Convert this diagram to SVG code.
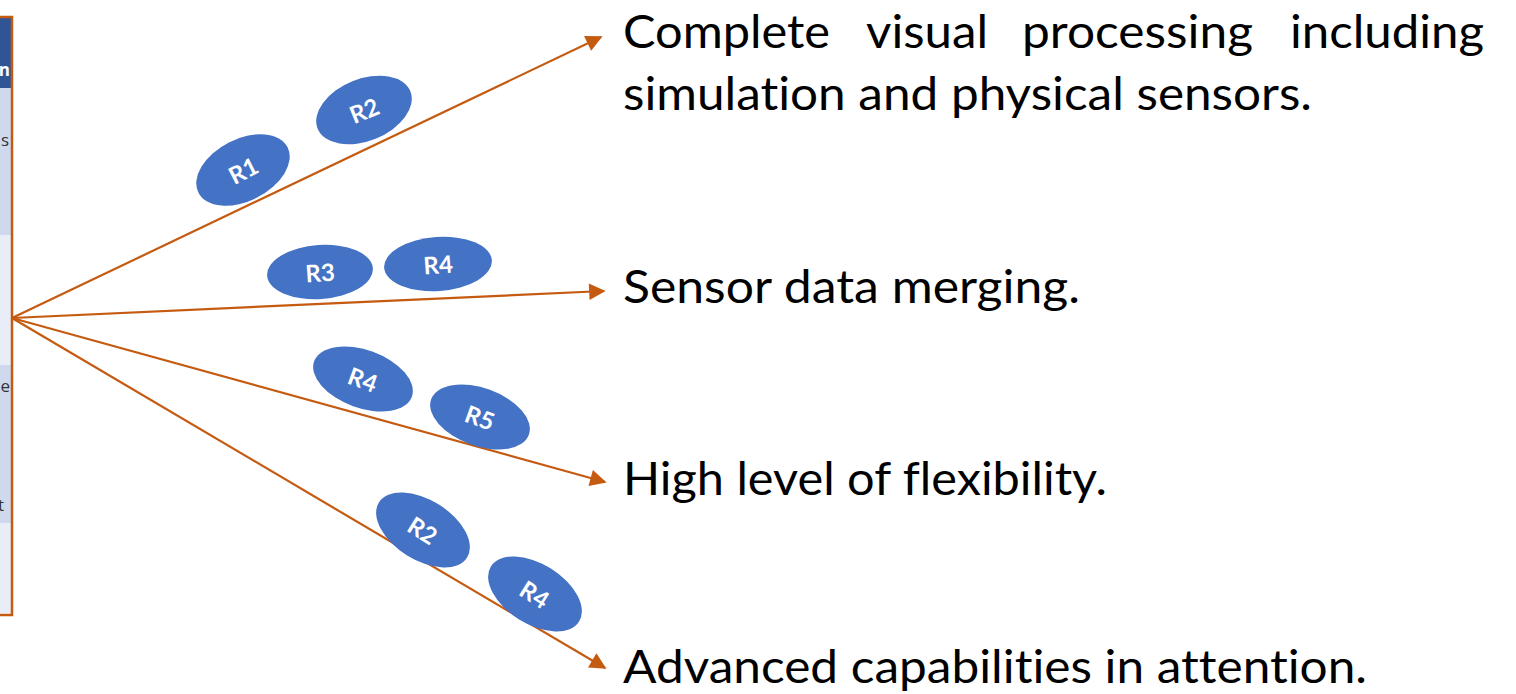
<svg xmlns="http://www.w3.org/2000/svg" width="1516" height="694" viewBox="0 0 1516 694">
  <style>
    .lbl { font-family: Lato, "Open Sans", "Liberation Sans", sans-serif; font-size: 46px; fill: #000; font-variant-ligatures: none; }
    .tag { font-family: Lato, "Open Sans", "Liberation Sans", sans-serif; font-size: 24px; font-weight: bold; fill: #fff; text-anchor: middle; dominant-baseline: central; }
    .pill { fill: #4472C4; }
    .edge { stroke: #C55A11; stroke-width: 2.2; fill: none; marker-end: url(#head); }
    .cell { font-family: "Open Sans", "Liberation Sans", sans-serif; font-size: 17px; fill: #333; text-anchor: end; }
  </style>
  <defs>
    <marker id="head" viewBox="0 0 10 10" refX="9" refY="5" markerWidth="8.5" markerHeight="7.5" markerUnits="strokeWidth" orient="auto">
      <path d="M0,0 L10,5 L0,10 Z" fill="#C55A11"/>
    </marker>
  </defs>

  <!-- table edge at the left -->
  <g id="table">
    <rect x="-20" y="18" width="32" height="70" fill="#2F5597"/>
    <rect x="-20" y="88" width="32" height="147" fill="#CFD9EE"/>
    <rect x="-20" y="235" width="32" height="130" fill="#E9EDF7"/>
    <rect x="-20" y="365" width="32" height="158" fill="#CFD9EE"/>
    <rect x="-20" y="523" width="32" height="90" fill="#E9EDF7"/>
    <text x="10" y="76" class="cell" style="fill:#fff;font-weight:bold">n</text>
    <text x="9" y="146" class="cell">s</text>
    <text x="10" y="392" class="cell">e</text>
    <text x="4" y="511" class="cell">t</text>
    <rect x="-20" y="17" width="32" height="598" fill="none" stroke="#C55A11" stroke-width="2.5"/>
  </g>

  <!-- connectors -->
  <g id="connectors">
    <line class="edge" x1="12" y1="318" x2="601" y2="37"/>
    <line class="edge" x1="12" y1="318" x2="604" y2="291"/>
    <line class="edge" x1="12" y1="318" x2="605" y2="482"/>
    <line class="edge" x1="12" y1="318" x2="605" y2="668"/>
  </g>

  <!-- requirement tags -->
  <g id="tag-r1" transform="translate(243,170) rotate(-27)">
    <ellipse class="pill" rx="50" ry="31"/><text class="tag">R1</text>
  </g>
  <g id="tag-r2a" transform="translate(364,110) rotate(-22)">
    <ellipse class="pill" rx="50" ry="31"/><text class="tag">R2</text>
  </g>
  <g id="tag-r3" transform="translate(320,272) rotate(-4)">
    <ellipse class="pill" rx="53" ry="27"/><text class="tag">R3</text>
  </g>
  <g id="tag-r4a" transform="translate(438,264) rotate(-4)">
    <ellipse class="pill" rx="54" ry="27"/><text class="tag">R4</text>
  </g>
  <g id="tag-r4b" transform="translate(363,379) rotate(20)">
    <ellipse class="pill" rx="52" ry="29"/><text class="tag">R4</text>
  </g>
  <g id="tag-r5" transform="translate(480,417) rotate(20)">
    <ellipse class="pill" rx="52" ry="29"/><text class="tag">R5</text>
  </g>
  <g id="tag-r2b" transform="translate(423,530) rotate(32)">
    <ellipse class="pill" rx="52" ry="30"/><text class="tag">R2</text>
  </g>
  <g id="tag-r4c" transform="translate(535,594) rotate(32)">
    <ellipse class="pill" rx="52" ry="30"/><text class="tag">R4</text>
  </g>

  <!-- outcome labels -->
  <g id="label-visual">
    <text class="lbl" x="623" y="48" textLength="207" lengthAdjust="spacingAndGlyphs">Complete</text>
    <text class="lbl" x="866" y="48" textLength="122" lengthAdjust="spacingAndGlyphs">visual</text>
    <text class="lbl" x="1022" y="48" textLength="231" lengthAdjust="spacingAndGlyphs">processing</text>
    <text class="lbl" x="1290" y="48" textLength="194" lengthAdjust="spacingAndGlyphs">including</text>
    <text class="lbl" x="623" y="110" textLength="689" lengthAdjust="spacingAndGlyphs">simulation and physical sensors.</text>
  </g>
  <g id="label-merging">
    <text class="lbl" x="623" y="303" textLength="457" lengthAdjust="spacingAndGlyphs">Sensor data merging.</text>
  </g>
  <g id="label-flexibility">
    <text class="lbl" x="623" y="495" textLength="484" lengthAdjust="spacingAndGlyphs">High level of flexibility.</text>
  </g>
  <g id="label-attention">
    <text class="lbl" x="623" y="683" textLength="744" lengthAdjust="spacingAndGlyphs">Advanced capabilities in attention.</text>
  </g>
</svg>
